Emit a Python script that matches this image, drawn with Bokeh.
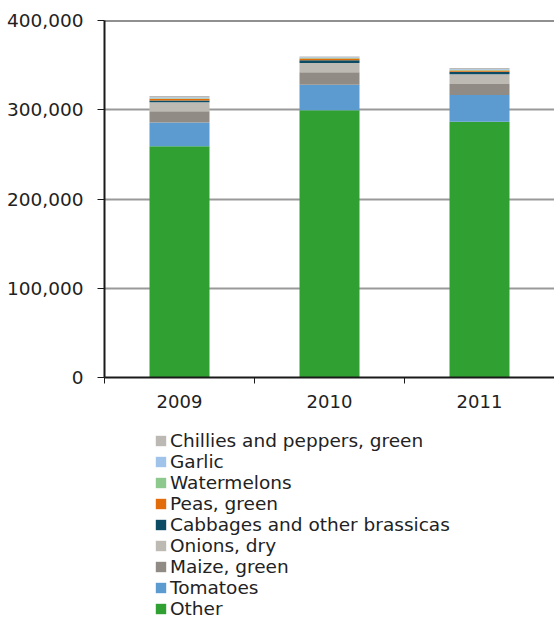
from bokeh.plotting import figure
from bokeh.layouts import column
from bokeh.models import (ColumnDataSource, FixedTicker, Legend, LegendItem, Span,
                          NumeralTickFormatter)
from bokeh.embed import file_html
from bokeh.resources import INLINE

years = ["2009", "2010", "2011"]
other = [259000, 299500, 286500]
tomatoes = [26800, 28500, 30000]
maize_green = [12500, 14000, 12300]
onions_dry = [10200, 10500, 11000]
cabbages = [2000, 3000, 2700]
peas_green = [1800, 2000, 1500]
watermelons = [700, 600, 700]
garlic = [1000, 700, 1000]
chillies = [1500, 1000, 1000]

series_names = ["Other", "Tomatoes", "Maize, green", "Onions, dry",
                "Cabbages and other brassicas", "Peas, green", "Watermelons",
                "Garlic", "Chillies and peppers, green"]
series_values = [other, tomatoes, maize_green, onions_dry, cabbages, peas_green,
                 watermelons, garlic, chillies]
colors = ["#31a033", "#5b9bd0", "#918b85", "#bdbab3", "#0b4b63", "#e36c0a",
          "#8dc98d", "#9fc3e9", "#bcb8b4"]
y_ticks = [0, 100000, 200000, 300000, 400000]

keys = ["s%d" % i for i in range(len(series_names))]
data = {"x": [i + 0.5 for i in range(len(years))]}
for k, v in zip(keys, series_values):
    data[k] = v
src = ColumnDataSource(data)

FONT = "DejaVu Sans"
p = figure(width=554, height=420, frame_width=450, frame_height=357,
           x_range=(0, len(years)), y_range=(0, y_ticks[-1]),
           output_backend="svg", toolbar_location=None,
           min_border_left=104, min_border_top=20, min_border_right=0, min_border_bottom=43)
p.outline_line_color = None
p.background_fill_color = "white"

rs = p.vbar_stack(keys, x="x", width=0.4, fill_color=colors, line_color=None, source=src)

# grid
p.xgrid.visible = False
p.ygrid.ticker = FixedTicker(ticks=y_ticks)
p.ygrid.grid_line_color = "#999999"
p.ygrid.grid_line_width = 2
p.ygrid.level = "underlay"
p.add_layout(Span(location=y_ticks[-1], dimension="width", line_color="#222222",
                  line_width=2, level="underlay"))

# y axis
ya = p.yaxis[0]
ya.ticker = FixedTicker(ticks=y_ticks)
ya.formatter = NumeralTickFormatter(format="0,0")
ya.axis_line_color = "#1a1a1a"
ya.axis_line_width = 2
ya.major_tick_out = 7
ya.major_tick_in = 0
ya.major_tick_line_color = "#1a1a1a"
ya.major_tick_line_width = 1
ya.minor_tick_line_color = None
ya.major_label_standoff = 14
ya.major_label_text_font = FONT
ya.major_label_text_font_size = "18.5px"
ya.major_label_text_color = "#222222"

# x axis
xa = p.xaxis[0]
xa.ticker = FixedTicker(ticks=data["x"], minor_ticks=list(range(len(years) + 1)))
xa.major_label_overrides = {x: y for x, y in zip(data["x"], years)}
xa.axis_line_color = "#1a1a1a"
xa.axis_line_width = 2
xa.major_tick_out = 0
xa.major_tick_in = 0
xa.minor_tick_out = 6
xa.minor_tick_in = 0
xa.minor_tick_line_color = "#1a1a1a"
xa.minor_tick_line_width = 1
xa.major_label_standoff = 11
xa.major_label_text_font = FONT
xa.major_label_text_font_size = "18px"
xa.major_label_text_color = "#222222"

# legend figure (same stacked glyphs, hidden; only their legend entries show)
lf = figure(width=554, height=199, x_range=(0, len(years)), y_range=(0, y_ticks[-1]),
            output_backend="svg", toolbar_location=None, min_border=0)
lf.outline_line_color = None
lf.axis.visible = False
lf.grid.visible = False
lrs = lf.vbar_stack(keys, x="x", width=0.4, fill_color=colors, line_color=None, source=src)
for r in lrs:
    r.visible = False

items = [LegendItem(label=n, renderers=[r]) for n, r in zip(series_names, lrs)]
legend = Legend(items=list(reversed(items)), location=(50, 0), orientation="vertical")
legend.border_line_color = None
legend.background_fill_alpha = 0
legend.inactive_fill_alpha = 0
legend.label_text_font = FONT
legend.label_text_font_size = "18.5px"
legend.label_text_color = "#222222"
legend.glyph_width = 13
legend.glyph_height = 13
legend.label_height = 20
legend.label_standoff = 3
legend.spacing = -1
legend.padding = 0
legend.margin = 0
lf.add_layout(legend, "center")

layout = column(p, lf, spacing=0)
open("out.html", "w").write(file_html(layout, INLINE))
